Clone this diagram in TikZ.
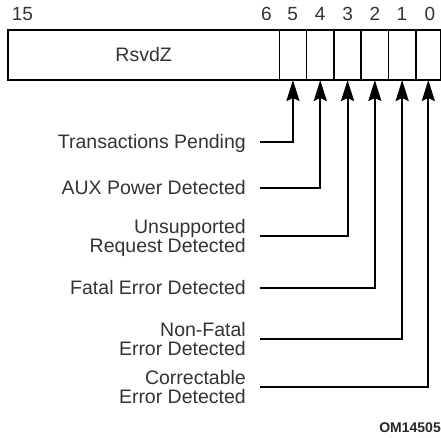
\documentclass[tikz,border=0pt]{standalone}
\usepackage{fontspec}
\setmainfont{Liberation Sans}
\usetikzlibrary{arrows.meta}
\tikzset{
  fld/.style={draw, line width=1.6pt, minimum height=50pt, inner sep=0pt, outer sep=0pt,
    font=\fontsize{19.5}{19.5}\selectfont, text=black!80},
  lbl/.style={anchor=east, align=right, inner sep=0pt,
    font=\fontsize{19.5}{18.5}\selectfont, text=black!80},
  bitno/.style={inner sep=0pt, font=\fontsize{19}{19}\selectfont, text=black!80},
  conn/.style={line width=2pt, -{Stealth[length=21pt,width=13pt,inset=3pt]}}
}
\begin{document}
\begin{tikzpicture}[x=1pt,y=-1pt]
\useasboundingbox (0,0) rectangle (441,437);
% register fields
\node[fld, minimum width=271.3pt] (rsvd) at (143.65,55) {RsvdZ};
\node[fld, minimum width=27.3pt] (b5) at (292.95,55) {};
\node[fld, minimum width=27.3pt] (b4) at (320.25,55) {};
\node[fld, minimum width=27.3pt] (b3) at (347.55,55) {};
\node[fld, minimum width=27.3pt] (b2) at (374.85,55) {};
\node[fld, minimum width=27.3pt] (b1) at (402.15,55) {};
\node[fld, minimum width=25pt] (b0) at (428.3,55) {};
% bit numbers
\node[bitno] (n15) at (22.5,14) {15};
\node[bitno] (n6) at (266.5,14) {6};
\node[bitno] (n5) at (292.6,14) {5};
\node[bitno] (n4) at (320.2,14) {4};
\node[bitno] (n3) at (347.6,14) {3};
\node[bitno] (n2) at (375,14) {2};
\node[bitno] (n1) at (401.8,14) {1};
\node[bitno] (n0) at (429.8,14) {0};
% labels
\node[lbl] (t5) at (246,143) {Transactions Pending};
\node[lbl] (t4) at (246,188) {AUX Power Detected};
\node[lbl] (t3) at (246,238) {Unsupported\\Request Detected};
\node[lbl] (t2) at (246,288) {Fatal Error Detected};
\node[lbl] (t1) at (246,339) {Non-Fatal\\Error Detected};
\node[lbl] (t0) at (246,387) {Correctable\\Error Detected};
% connectors
\draw[conn] ([xshift=14pt,yshift=1pt]t5.east) -| (b5.south);
\draw[conn] ([xshift=14pt]t4.east) -| (b4.south);
\draw[conn] ([xshift=14pt,yshift=2pt]t3.east) -| (b3.south);
\draw[conn] ([xshift=14pt]t2.east) -| (b2.south);
\draw[conn] ([xshift=14pt]t1.east) -| (b1.south);
\draw[conn] ([xshift=14pt]t0.east) -| (b0.south);
% figure id
\node[anchor=east, inner sep=0pt, font=\fontsize{14}{14}\selectfont\bfseries, text=black!85] (fid) at (441,428) {OM14505};
\end{tikzpicture}
\end{document}
